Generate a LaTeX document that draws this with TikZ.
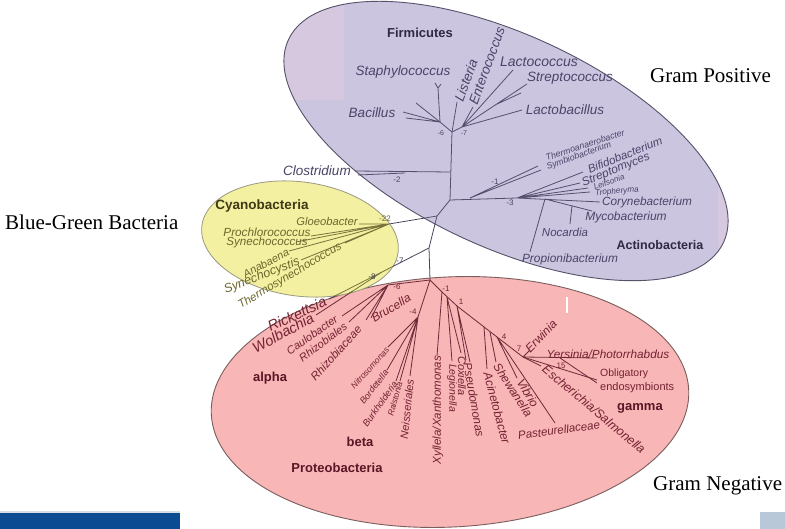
\documentclass[tikz,border=0pt]{standalone}
\usepackage{fontspec}
\newfontfamily\labf{Liberation Sans}
\newfontfamily\serf{Liberation Serif}
\newcommand\fsz[1]{\fontsize{#1}{#1}\selectfont}
\definecolor{fillP}{HTML}{CCC5E0}
\definecolor{fillPk}{HTML}{D6C9DF}
\definecolor{fillR}{HTML}{F8B6B6}
\definecolor{fillY}{HTML}{F3F0A2}
\definecolor{edgeP}{HTML}{55526A}
\definecolor{edgeR}{HTML}{7A5E5E}
\definecolor{edgeY}{HTML}{9A9880}
\definecolor{barB}{HTML}{0A4B91}
\definecolor{barL}{HTML}{B8C8D8}
\colorlet{treeT}{black}
\colorlet{treeL}{black}
\colorlet{treeB}{black}
\tikzset{
  lb/.style={font=\labf\itshape\fsz{#1}, text=treeT, inner sep=0pt},
  lb/.default=12,
  nb/.style={font=\labf\fsz{#1}, text=treeT, inner sep=0pt},
  nb/.default=8,
  gb/.style={font=\labf\bfseries\fsz{#1}, text=treeB, inner sep=0pt},
  gb/.default=13,
  br/.style={draw=treeL, line width=0.8pt},
  gram/.style={font=\serf\fsz{21}, inner sep=0pt, anchor=west, text=black}
}
\newcommand\drawlines{%
  \draw[br] (f0) -- (r1) -- (r2) -- (r3) -- (pr);
  \draw[br] (f0) -- (fs) -- (fst) -- (fst1) (fst) -- (fst2);
  \draw[br] (fs) -- (fb1) (fs) -- (fb2) (fs) -- (fb3);
  \draw[br] (f0) -- (fli);
  \draw[br] (f0) -- (fr) -- (fen) (fr) -- (flc) (fr) -- (fsp) (fsp0) -- (fsp1) (fr) -- (flb);
  \draw[br] (c0) -- (cl) (cl0) -- (cl1);
  \draw[br] (r1) -- (a2) -- (aco) (a1) -- (ath) (a1) -- (asy) (a2) -- (abi) (a2) -- (ast)
            (a2) -- (ale) (a2) -- (atr) (a3) -- (amy) (a4) -- (ano) (a3) -- (apr);
  \draw[br] (r2) -- (y0) -- (ygl) (y0) -- (ypr) (y0) -- (ysy) (y0) -- (yan) (y0) -- (ysc) (y0) -- (yth);
  \draw[br] (r3) -- (n8) -- (pri) (n8) -- (pwo);
  \draw[br] (pr) -- (an) -- (pca) (an) -- (prh) (an) -- (prc) (an) -- (pbr);
  \draw[br] (pr) -- (bn) -- (bni) (bn) -- (bbo) (bn) -- (bbu) (bn) -- (bra) (bn) -- (bne);
  \draw[br] (pr) -- (g1) -- (g2) -- (g4) -- (g7) -- (gob);
  \draw[br] (g1) -- (gxy) (gx) -- (gle) (gx) -- (gco) (g2) -- (gps1) (g2) -- (gps2)
            (ga) -- (gac) (gsh0) -- (gsh) (g4) -- (gvi) (g4) -- (gpa) (g7) -- (ger)
            (g7) -- (gye) (gob2a) -- (gob2) (g7) -- (ges);
}
\begin{document}
\begin{tikzpicture}[x=1pt,y=-1pt]
\useasboundingbox (0,0) rectangle (785,529);
\fill[white] (0,0) rectangle (785,529);
% coordinates
\coordinate (f0) at (452,132);
\coordinate (r1) at (450,200);
\coordinate (r2) at (437,216);
\coordinate (r3) at (429,248);
\coordinate (pr) at (430,280);
\coordinate (fs) at (440,122);
\coordinate (fst) at (438,88);
\coordinate (fst1) at (435,83);
\coordinate (fst2) at (441,84);
\coordinate (fb1) at (403,112);
\coordinate (fb2) at (406,118);
\coordinate (fb3) at (416,103);
\coordinate (fli) at (457,102);
\coordinate (fr) at (462,127);
\coordinate (fen) at (473,107);
\coordinate (flc) at (513,70);
\coordinate (fsp) at (527,84);
\coordinate (fsp0) at (495,105);
\coordinate (fsp1) at (521,93);
\coordinate (flb) at (522,110);
\coordinate (c0) at (450,172);
\coordinate (cl) at (355,171);
\coordinate (cl0) at (405,173);
\coordinate (cl1) at (358,175);
\coordinate (a1) at (470,198);
\coordinate (a2) at (517,198);
\coordinate (ath) at (538,166);
\coordinate (asy) at (541,170);
\coordinate (abi) at (583,172);
\coordinate (ast) at (580,183);
\coordinate (ale) at (588,188);
\coordinate (atr) at (590,192);
\coordinate (aco) at (600,202);
\coordinate (a3) at (545,199);
\coordinate (amy) at (592,211);
\coordinate (a4) at (572,206);
\coordinate (ano) at (570,224);
\coordinate (apr) at (530,252);
\coordinate (y0) at (389,224);
\coordinate (ygl) at (359,224);
\coordinate (ypr) at (311,236);
\coordinate (ysy) at (296,242);
\coordinate (yan) at (289,251);
\coordinate (ysc) at (301,260);
\coordinate (yth) at (345,243);
\coordinate (n8) at (382,272);
\coordinate (pri) at (329,299);
\coordinate (pwo) at (316,315);
\coordinate (an) at (388,285);
\coordinate (pca) at (342,316);
\coordinate (prh) at (349,322);
\coordinate (prc) at (366,320);
\coordinate (pbr) at (371,318);
\coordinate (bn) at (418,317);
\coordinate (bni) at (388,347);
\coordinate (bbo) at (387,370);
\coordinate (bbu) at (396,381);
\coordinate (bra) at (400,381);
\coordinate (bne) at (410,376);
\coordinate (g1) at (442,292);
\coordinate (g2) at (457,306);
\coordinate (g4) at (497,337);
\coordinate (g7) at (523,357);
\coordinate (gob) at (597,380);
\coordinate (gxy) at (437,356);
\coordinate (gx) at (447,297);
\coordinate (gle) at (452,361);
\coordinate (gco) at (461,353);
\coordinate (gps1) at (466,360);
\coordinate (gps2) at (470,362);
\coordinate (ga) at (484,327);
\coordinate (gac) at (487,369);
\coordinate (gsh0) at (490,332);
\coordinate (gsh) at (496,362);
\coordinate (gvi) at (517,378);
\coordinate (gpa) at (555,423);
\coordinate (ger) at (530,350);
\coordinate (gye) at (597,358);
\coordinate (gob2a) at (560,358);
\coordinate (gob2) at (597,383);
\coordinate (ges) at (541,366);
% Gram positive oval (purple)
\fill[fillP] (506,141) ellipse [x radius=240, y radius=106, rotate=-25];
\begin{scope}
  \clip (506,141) ellipse [x radius=240, y radius=106, rotate=-25];
  \fill[fillPk] (260,0) rectangle (344,100);
  \fill[fillPk] (718,0) rectangle (760,300);
\end{scope}
\draw[edgeP, line width=0.9pt] (506,141) ellipse [x radius=240, y radius=106, rotate=-25];
\fill[fillR] (450,402) ellipse [x radius=239, y radius=125, rotate=3];
\draw[edgeR, line width=0.9pt] (450,402) ellipse [x radius=239, y radius=125, rotate=3];
\fill[fillY] (300,239) ellipse [x radius=99, y radius=57, rotate=-8];
\draw[edgeY, line width=0.8pt] (300,239) ellipse [x radius=99, y radius=57, rotate=-8];
% tree lines, tinted by region
\begin{scope}[even odd rule]
  \clip (0,0) rectangle (785,529)
    (506,141) ellipse [x radius=240, y radius=106, rotate=-25]
    (450,402) ellipse [x radius=239, y radius=125, rotate=3]
    (300,239) ellipse [x radius=99, y radius=57, rotate=-8];
  \definecolor{treeL}{HTML}{46445A}
  \drawlines
\end{scope}
\begin{scope}
  \clip (506,141) ellipse [x radius=240, y radius=106, rotate=-25];
  \definecolor{treeL}{HTML}{554E6E}
  \drawlines
\end{scope}
\begin{scope}
  \clip (450,402) ellipse [x radius=239, y radius=125, rotate=3];
  \definecolor{treeL}{HTML}{6E2A38}
  \drawlines
\end{scope}
\begin{scope}
  \clip (300,239) ellipse [x radius=99, y radius=57, rotate=-8];
  \definecolor{treeL}{HTML}{77733A}
  \drawlines
\end{scope}
% labels outside the ovals
\begin{scope}
  \definecolor{treeT}{HTML}{3E3C52}
  \node[nb] (nm7b) at (400,261) {-7};
  \node[nb] (nm8) at (372,277) {-8};
\end{scope}
% Gram positive labels
\begin{scope}
  \definecolor{treeT}{HTML}{4A4468}
  \definecolor{treeB}{HTML}{2E2A42}
  \node[lb=13.5] (tClo) at (317,171) {Clostridium};
  \node[gb] (tFirm) at (420,33) {Firmicutes};
  \node[lb=13.5] (tStaph) at (403,72) {Staphylococcus};
  \node[lb=13.5] (tBac) at (372,113) {Bacillus};
  \node[lb=13.5, rotate=70] (tList) at (466,80) {Listeria};
  \node[lb=13.5, rotate=70] (tEnt) at (487,66) {Enterococcus};
  \node[lb=14] (tLcc) at (539,62) {Lactococcus};
  \node[lb=13.5] (tStr) at (570,78) {Streptococcus};
  \node[lb=13.5] (tLba) at (565,110) {Lactobacillus};
  \node[nb=7] (nm6) at (441,133) {-6};
  \node[nb=7] (nm7) at (464,133) {-7};
  \node[nb] (nm2) at (397,180) {-2};
  \node[lb=8.8, rotate=18] (tTher) at (585,145) {Thermoanaerobacter};
  \node[lb=8.8, rotate=20] (tSym) at (579,156) {Symbiobacterium};
  \node[lb=11.5, rotate=22] (tBif) at (625,155) {Bifidobacterium};
  \node[lb=11.8, rotate=22] (tSmy) at (616,170) {Streptomyces};
  \node[lb=8, rotate=19] (tLei) at (609,182) {Leifsonia};
  \node[lb=8.2, rotate=5] (tTro) at (617,191.5) {Tropheryma};
  \node[lb=11.8] (tCor) at (647,202) {Corynebacterium};
  \node[lb=12] (tMyc) at (626,217) {Mycobacterium};
  \node[lb=11.5] (tNoc) at (565,232) {Nocardia};
  \node[gb=12.5] (tAct) at (660,245) {Actinobacteria};
  \node[lb=11.9] (tPro) at (570,259) {Propionibacterium};
  \node[nb] (nm1a) at (495,182) {-1};
  \node[nb] (nm3) at (510,203) {-3};
\end{scope}
% Cyanobacteria labels
\begin{scope}
  \definecolor{treeT}{HTML}{6C682C}
  \definecolor{treeB}{HTML}{3D3A14}
  \node[gb=13.5] (tCya) at (262,206) {Cyanobacteria};
  \node[lb=11.2] (tGlo) at (327,221) {Gloeobacter};
  \node[nb] (nm22) at (385,219) {-22};
  \node[lb=11.8] (tPcc) at (267,232) {Prochlorococcus};
  \node[lb=11.6] (tSyc) at (267,243) {Synechococcus};
  \node[lb=11, rotate=28] (tAna) at (266,263) {Anabaena};
  \node[lb=12.5, rotate=21] (tSys) at (262,276) {Synechocystis};
  \node[lb=11.5, rotate=31] (tThs) at (290,276) {Thermosynechococcus};
\end{scope}
% Gram negative labels
\begin{scope}
  \definecolor{treeT}{HTML}{742233}
  \definecolor{treeB}{HTML}{5A1526}
  \node[lb=14.5, rotate=25] (tRic) at (297,314) {Rickettsia};
  \node[lb=14.5, rotate=29] (tWol) at (283,333) {Wolbachia};
  \node[lb=11, rotate=35] (tCau) at (312,335) {Caulobacter};
  \node[lb=11, rotate=37] (tRhs) at (323,342) {Rhizobiales};
  \node[lb=11.5, rotate=48] (tRhc) at (336,353) {Rhizobiaceae};
  \node[lb=12, rotate=31] (tBru) at (391,308) {Brucella};
  \node[nb] (nm6b) at (397,287) {-6};
  \node[nb] (nm4) at (413,312) {-4};
  \node[gb] (tAlp) at (270,378) {alpha};
  \node[gb] (tBet) at (360,442) {beta};
  \node[gb] (tPrb) at (337,468) {Proteobacteria};
  \node[gb] (tGam) at (640,408) {gamma};
  \node[lb=8.5, rotate=48] (tNit) at (370,368) {Nitrosomonas};
  \node[lb=9, rotate=52] (tBor) at (374,387) {Bordetella};
  \node[lb=9.5, rotate=55] (tBur) at (380,404) {Burkholderia};
  \node[lb=8.5, rotate=75] (tRal) at (395,399) {Ralstonia};
  \node[lb=11, rotate=84] (tNei) at (407,409) {Neisseriales};
  \node[lb=11.5, rotate=90] (tXyl) at (438,410) {Xyllela/Xanthomonas};
  \node[lb=10.5, rotate=-90] (tLeg) at (452,388) {Legionella};
  \node[lb=11, rotate=-90] (tCox) at (462,376) {Coxiella};
  \node[lb=11.7, rotate=-80] (tPse) at (474,400) {Pseudomonas};
  \node[lb=12, rotate=-75] (tAci) at (497,408) {Acinetobacter};
  \node[lb=11.8, rotate=-57] (tShe) at (513,390) {Shewanella};
  \node[lb=12, rotate=-59] (tVib) at (528,393) {Vibrio};
  \node[lb=12, rotate=46] (tErw) at (541,336) {Erwinia};
  \node[lb=11.8] (tYer) at (608,354) {Yersinia/Photorrhabdus};
  \node[nb=10.5, anchor=west] (tObl) at (600,374) {Obligatory};
  \node[nb=11, anchor=west] (tEnd) at (600,388) {endosymbionts};
  \node[lb=12.5, rotate=-40] (tEsc) at (594,409) {Escherichia/Salmonella};
  \node[lb=11.5, rotate=8] (tPas) at (559,430) {Pasteurellaceae};
  \node[nb] (nm1b) at (446,289) {-1};
  \node[nb] (nm1c) at (461,302) {1};
  \node[nb] (nm4b) at (504,337) {4};
  \node[nb] (nm7c) at (519,349) {7};
  \node[nb] (nm15) at (561,366) {15};
\end{scope}
% white mark
\draw[white, line width=2pt] (567,297) -- (567,313);
% group labels
\node[gram] (gpos) at (650,76) {Gram Positive};
\node[gram] (gneg) at (653,486) {Gram Negative};
\node[gram] (gbg) at (5,222) {Blue-Green Bacteria};
% footer bars
\fill[barL!60] (0,510.5) rectangle (180,512.5);
\fill[barB] (0,512.5) rectangle (180,529);
\fill[barL] (760,512) rectangle (785,529);
\end{tikzpicture}
\end{document}
